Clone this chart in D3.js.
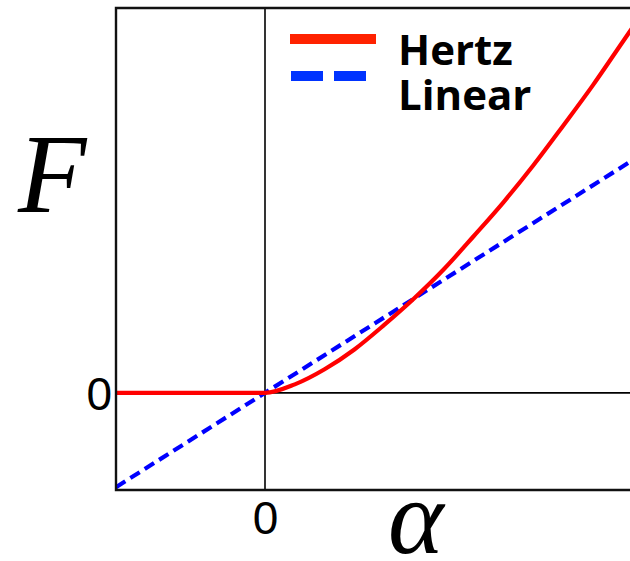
<!DOCTYPE html>
<html>
<head>
<meta charset="utf-8">
<script src="https://cdn.jsdelivr.net/npm/d3@7/dist/d3.min.js"></script>
<style>
  html, body { margin: 0; padding: 0; background: #fff; }
  svg { display: block; }
</style>
</head>
<body>
<svg id="chart" width="630" height="561"></svg>
<script>
// Indentation (alpha) and contact force (F) samples, in reduced units
const hertzAlpha = [-1, -0.5, 0, 0.2, 0.4, 0.6, 0.8, 1.0, 1.2, 1.4, 1.6, 1.8, 2.0, 2.2, 2.4, 2.5];
const hertzForce = [0, 0, 0, 0.09, 0.25, 0.46, 0.72, 1.0, 1.31, 1.66, 2.02, 2.41, 2.83, 3.26, 3.72, 3.95];
const linearAlpha = [-1, 2.5];
const linearForce = [-1, 2.5];
const xTicks = [0];
const yTicks = [0];
const seriesNames = ["Hertz", "Linear"];

const svg = d3.select("#chart");

const x = d3.scaleLinear().domain([-1, 2.5]).range([116, 637.5]);
const y = d3.scaleLinear().domain([-1.03, 4.08]).range([490, 8]);

const plotLeft = 116, plotTop = 8, plotBottom = 490, plotRight = 640;

svg.append("defs").append("clipPath").attr("id", "plot-clip")
  .append("rect")
  .attr("x", plotLeft).attr("y", plotTop)
  .attr("width", plotRight - plotLeft).attr("height", plotBottom - plotTop);

// zero axes through the origin
svg.append("line")
  .attr("x1", x(0)).attr("x2", x(0))
  .attr("y1", plotTop).attr("y2", plotBottom)
  .attr("stroke", "#000").attr("stroke-width", 1.6);
svg.append("line")
  .attr("x1", x(0)).attr("x2", plotRight)
  .attr("y1", y(0)).attr("y2", y(0))
  .attr("stroke", "#000").attr("stroke-width", 1.6);

const plot = svg.append("g").attr("clip-path", "url(#plot-clip)");

const line = d3.line()
  .x(d => x(d[0]))
  .y(d => y(d[1]))
  .curve(d3.curveMonotoneX);

plot.append("path")
  .datum(linearAlpha.map((a, i) => [a, linearForce[i]]))
  .attr("d", d3.line().x(d => x(d[0])).y(d => y(d[1])))
  .attr("fill", "none")
  .attr("stroke", "#0000ff")
  .attr("stroke-width", 4.2)
  .attr("stroke-dasharray", "11,6");

plot.append("path")
  .datum(hertzAlpha.map((a, i) => [a, hertzForce[i]]))
  .attr("d", line)
  .attr("fill", "none")
  .attr("stroke", "#ff0000")
  .attr("stroke-width", 4.2);

// plot frame
svg.append("path")
  .attr("d", `M${plotRight},${plotTop}H${plotLeft}V${plotBottom}H${plotRight}`)
  .attr("fill", "none")
  .attr("stroke", "#111")
  .attr("stroke-width", 2.4);

// tick labels
const yAxis = svg.append("g")
  .attr("transform", `translate(${plotLeft - 4},0)`)
  .call(d3.axisLeft(y).tickValues(yTicks).tickSize(0).tickPadding(0).tickFormat(d3.format("d")));
yAxis.select(".domain").remove();
yAxis.selectAll("text")
  .attr("font-family", "'Liberation Sans', Arial, sans-serif")
  .attr("font-size", 46)
  .attr("fill", "#000")
  .attr("dy", "0.36em");

const xAxis = svg.append("g")
  .attr("transform", `translate(0,${plotBottom})`)
  .call(d3.axisBottom(x).tickValues(xTicks).tickSize(0).tickPadding(0).tickFormat(d3.format("d")));
xAxis.select(".domain").remove();
xAxis.selectAll("text")
  .attr("font-family", "'Liberation Sans', Arial, sans-serif")
  .attr("font-size", 46)
  .attr("fill", "#000")
  .attr("dy", "0.96em");

// axis titles
svg.append("text")
  .attr("x", 18).attr("y", 212)
  .attr("font-family", "'Liberation Serif', 'Times New Roman', serif")
  .attr("font-style", "italic")
  .attr("font-size", 112)
  .attr("fill", "#000")
  .text("F");

svg.append("text")
  .attr("x", 388).attr("y", 553)
  .attr("font-family", "'Liberation Serif', 'Times New Roman', serif")
  .attr("font-style", "italic")
  .attr("font-size", 106)
  .attr("fill", "#000")
  .text("α");

// legend
const legend = svg.append("g");
legend.append("line")
  .attr("x1", 290).attr("x2", 376).attr("y1", 39).attr("y2", 39)
  .attr("stroke", "#ff2200").attr("stroke-width", 10);
legend.append("line")
  .attr("x1", 291).attr("x2", 377).attr("y1", 76).attr("y2", 76)
  .attr("stroke", "#0033ff").attr("stroke-width", 10)
  .attr("stroke-dasharray", "32,11");

legend.selectAll("text.lbl")
  .data(seriesNames)
  .join("text")
  .attr("class", "lbl")
  .attr("x", 398)
  .attr("y", (d, i) => 65 + i * 45)
  .attr("font-family", "'Open Sans', sans-serif")
  .attr("font-weight", "bold")
  .attr("font-size", 42)
  .attr("fill", "#000")
  .text(d => d);
</script>
</body>
</html>
